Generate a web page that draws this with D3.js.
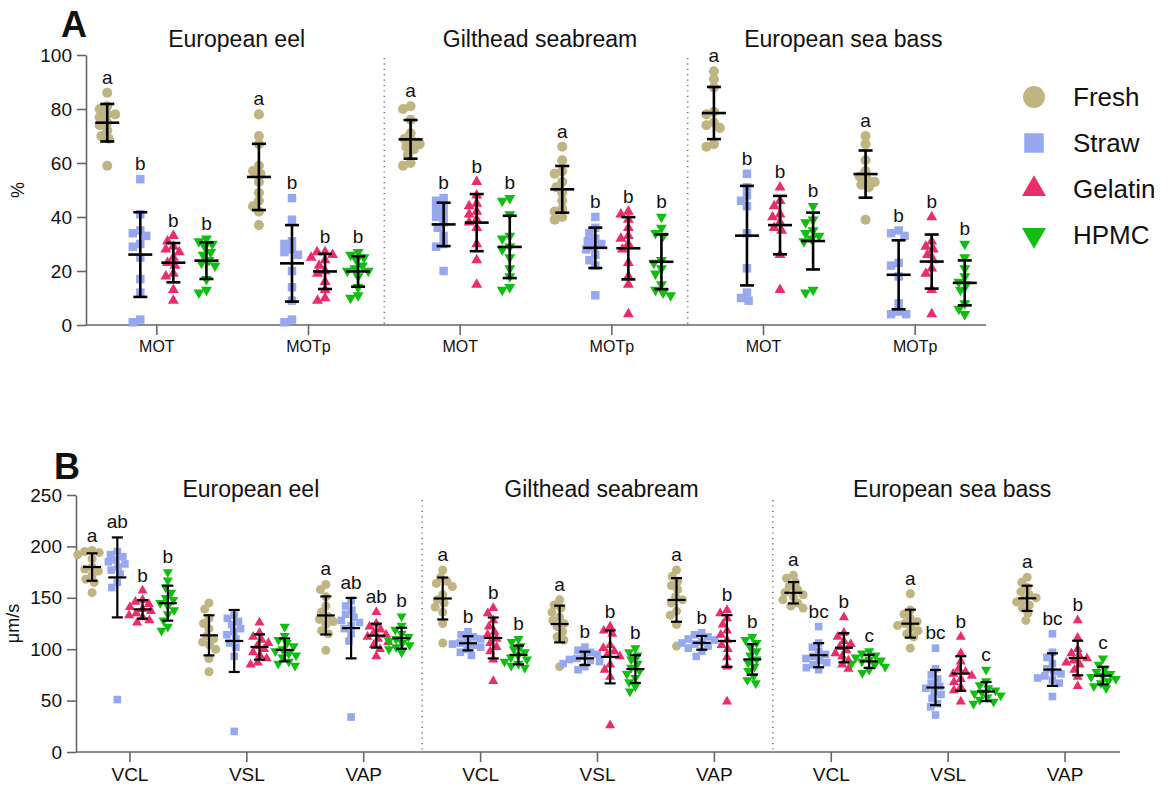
<!DOCTYPE html>
<html>
<head>
<meta charset="utf-8">
<script src="https://cdn.jsdelivr.net/npm/d3@7"></script>
<style>
  body { margin: 0; background: #fff; }
  text { font-family: "Liberation Sans", Arial, sans-serif; fill: #111; }
</style>
</head>
<body>
<svg id="chart" width="1176" height="790"></svg>
<script>
// treatment groups, in plotting order
const groups = ["Fresh", "Straw", "Gelatin", "HPMC"];
const colors = ["#C0B482", "#96A8F0", "#EB2D69", "#10BE10"];
const species = ["European eel", "Gilthead seabream", "European sea bass"];
const paramsA = ["MOT", "MOTp"];
const paramsB = ["VCL", "VSL", "VAP"];
const ticksA = [0, 20, 40, 60, 80, 100];
const ticksB = [0, 50, 100, 150, 200, 250];

// panel A, % motile / progressive motile (Fresh, Straw, Gelatin, HPMC)
const eelMOT = [
  [86, 81, 80, 78, 78, 77, 75, 74, 72, 70, 69, 59],
  [54, 41, 35, 34, 33, 30, 29, 25, 17, 12, 2, 1],
  [33, 31, 29, 28, 27, 25, 23, 22, 19, 18, 13, 9],
  [32, 31, 30, 29, 27, 26, 24, 23, 22, 17, 13, 12]];
const eelMOTp = [
  [78, 70, 67, 59, 57, 56, 53, 49, 46, 44, 42, 37],
  [47, 39, 31, 30, 28, 27, 26, 20, 14, 9, 2, 1],
  [27, 27, 26, 25, 24, 22, 20, 19, 16, 13, 10, 9],
  [27, 26, 25, 24, 22, 21, 20, 20, 18, 14, 11, 10]];
const giltMOT = [
  [81, 80, 76, 71, 69, 68, 67, 66, 65, 63, 60, 59],
  [47, 46, 44, 43, 41, 40, 38, 36, 33, 30, 29, 20],
  [53, 48, 45, 44, 42, 41, 39, 38, 36, 30, 24, 15],
  [47, 46, 41, 33, 32, 29, 28, 25, 21, 18, 14, 13]];
const giltMOTp = [
  [66, 61, 57, 56, 53, 51, 49, 46, 43, 42, 40, 39],
  [40, 36, 34, 32, 31, 30, 29, 28, 26, 24, 22, 11],
  [42, 41, 39, 36, 33, 32, 30, 28, 23, 18, 15, 4],
  [40, 36, 34, 33, 24, 23, 21, 19, 15, 13, 12, 11]];
const bassMOT = [
  [94, 91, 88, 79, 78, 75, 74, 73, 67, 66],
  [56, 51, 48, 46, 44, 34, 21, 12, 10, 9],
  [51, 46, 44, 41, 40, 38, 36, 35, 26, 13],
  [44, 39, 38, 35, 34, 33, 32, 31, 13, 12]];
const bassMOTp = [
  [70, 67, 61, 57, 55, 54, 53, 52, 51, 39],
  [35, 34, 33, 23, 22, 18, 8, 5, 4, 4],
  [40, 31, 29, 28, 26, 24, 21, 19, 13, 4],
  [30, 25, 21, 18, 16, 15, 13, 8, 6, 4]];

// panel B, velocities in um/s
const eelVCL = [
  [196, 195, 194, 192, 188, 180, 178, 176, 172, 168, 165, 155],
  [195, 192, 190, 187, 185, 183, 180, 177, 173, 165, 160, 51],
  [157, 148, 146, 144, 141, 139, 137, 135, 133, 131, 128, 126],
  [175, 167, 160, 155, 150, 148, 145, 142, 138, 134, 128, 122, 118]];
const eelVSL = [
  [145, 139, 130, 125, 120, 113, 110, 107, 104, 100, 91, 78],
  [133, 130, 127, 124, 120, 117, 114, 110, 106, 102, 93, 20],
  [126, 116, 112, 109, 106, 103, 100, 97, 94, 91, 87, 85],
  [122, 113, 109, 106, 103, 100, 98, 96, 94, 92, 88, 86, 84]];
const eelVAP = [
  [163, 158, 151, 142, 136, 132, 129, 127, 124, 118, 115, 99],
  [147, 142, 138, 134, 131, 128, 126, 123, 120, 115, 108, 34],
  [136, 125, 122, 119, 116, 114, 112, 110, 107, 104, 100, 93],
  [132, 123, 119, 115, 112, 110, 108, 106, 104, 102, 100, 97]];
const giltVCL = [
  [177, 170, 166, 164, 161, 153, 148, 145, 141, 136, 125, 106],
  [117, 114, 112, 110, 108, 106, 105, 104, 102, 100, 97, 94],
  [140, 135, 128, 122, 117, 114, 110, 106, 102, 98, 90, 69],
  [110, 107, 103, 100, 97, 94, 92, 90, 88, 86, 84, 82]];
const giltVSL = [
  [148, 143, 140, 136, 131, 128, 125, 122, 117, 112, 109, 83],
  [102, 99, 97, 95, 93, 91, 90, 89, 88, 86, 83, 80],
  [122, 118, 115, 104, 101, 98, 95, 93, 85, 80, 73, 26],
  [101, 97, 94, 90, 86, 82, 79, 76, 72, 68, 64, 59]];
const giltVAP = [
  [177, 171, 166, 162, 158, 151, 148, 145, 137, 133, 124, 103],
  [116, 114, 112, 110, 109, 107, 106, 105, 103, 101, 98, 93],
  [138, 135, 130, 124, 118, 114, 109, 104, 100, 92, 83, 49],
  [112, 109, 106, 102, 98, 94, 90, 87, 83, 79, 74, 70, 67]];
const bassVCL = [
  [172, 169, 165, 161, 158, 155, 153, 151, 148, 145, 142, 140],
  [122, 106, 102, 98, 95, 93, 91, 89, 87, 85, 82, 80],
  [131, 116, 112, 108, 105, 102, 99, 96, 93, 89, 85, 81],
  [98, 96, 94, 92, 90, 89, 88, 86, 85, 83, 80, 77]];
const bassVSL = [
  [154, 138, 134, 130, 127, 125, 123, 121, 118, 115, 112, 101],
  [101, 81, 75, 71, 67, 64, 62, 59, 56, 52, 47, 44, 36],
  [112, 96, 88, 81, 78, 76, 74, 71, 68, 63, 60, 49],
  [80, 69, 65, 62, 60, 58, 57, 55, 53, 51, 49, 47]];
const bassVAP = [
  [170, 165, 160, 156, 153, 150, 148, 146, 143, 140, 135, 128],
  [115, 97, 92, 86, 81, 78, 76, 74, 72, 70, 67, 54],
  [128, 111, 100, 96, 93, 91, 89, 87, 85, 80, 73, 64],
  [91, 85, 81, 78, 76, 74, 73, 71, 69, 67, 64, 62]];

// significance letters per category
const lettersA = [
  ["a", "b", "b", "b"], ["a", "b", "b", "b"],
  ["a", "b", "b", "b"], ["a", "b", "b", "b"],
  ["a", "b", "b", "b"], ["a", "b", "b", "b"]];
const lettersB = [
  ["a", "ab", "b", "b"], ["", "", "", ""], ["a", "ab", "ab", "b"],
  ["a", "b", "b", "b"], ["a", "b", "b", "b"], ["a", "b", "b", "b"],
  ["a", "bc", "b", "c"], ["a", "bc", "b", "c"], ["a", "bc", "b", "c"]];

const valuesA = [eelMOT, eelMOTp, giltMOT, giltMOTp, bassMOT, bassMOTp];
const valuesB = [eelVCL, eelVSL, eelVAP, giltVCL, giltVSL, giltVAP, bassVCL, bassVSL, bassVAP];

const svg = d3.select("#chart");
svg.append("rect").attr("width", 1176).attr("height", 790).attr("fill", "#fff");

const shapes = [d3.symbolCircle, d3.symbolSquare, d3.symbolTriangle, d3.symbolTriangle];
const turns = [0, 0, 0, 180];

// simple beeswarm: put each point as near the column centre as it fits
function swarm(ys, d) {
  const placed = [];
  return ys.map(function (y) {
    const cands = [0];
    placed.forEach(function (p) {
      const dy = Math.abs(p.y - y);
      if (dy < d) {
        const dx = Math.sqrt(d * d - dy * dy);
        cands.push(p.x - dx, p.x + dx);
      }
    });
    cands.sort(function (a, b) { return Math.abs(a) - Math.abs(b); });
    const x = cands.find(function (c) {
      return placed.every(function (p) {
        return (p.x - c) * (p.x - c) + (p.y - y) * (p.y - y) >= d * d - 0.01;
      });
    });
    placed.push({ x: x, y: y });
    return x;
  });
}

function drawPanel(p) {
  const cats = [];
  species.forEach(function (s, si) {
    p.params.forEach(function (pr, pi) {
      const i = si * p.params.length + pi;
      cats.push({ key: s + "|" + pr, label: pr, sp: si, values: p.values[i], letters: p.letters[i] });
    });
  });

  const x = d3.scaleBand().domain(cats.map(function (c) { return c.key; })).range(p.xRange);
  const bw = x.bandwidth();
  const y = d3.scaleLinear().domain([0, d3.max(p.ticks)]).range(p.yRange);
  const g = svg.append("g");

  // dotted separators between species
  [1, 2].forEach(function (si) {
    const sx = x(species[si] + "|" + p.params[0]);
    g.append("line")
      .attr("x1", sx).attr("x2", sx)
      .attr("y1", p.sepTop).attr("y2", p.yRange[0])
      .attr("stroke", "#777").attr("stroke-width", 1.6)
      .attr("stroke-dasharray", "1.2,4.2");
  });

  // y axis
  const ya = g.append("g")
    .attr("transform", "translate(" + p.axisX + ",0)")
    .call(d3.axisLeft(y).tickValues(p.ticks).tickSize(9).tickPadding(5).tickSizeOuter(0));

  // x axis
  const xa = g.append("g")
    .attr("transform", "translate(0," + p.yRange[0] + ")")
    .call(d3.axisBottom(x).tickSize(10).tickPadding(6)
      .tickFormat(function (k) { return k.split("|")[1]; }));
  xa.select(".domain").remove();
  g.append("line")
    .attr("x1", p.axisX).attr("x2", p.xEnd)
    .attr("y1", p.yRange[0]).attr("y2", p.yRange[0])
    .attr("stroke", "#666").attr("stroke-width", 1.6);

  [ya, xa].forEach(function (a) {
    a.selectAll("path, line").attr("stroke", "#666").attr("stroke-width", 1.6);
    a.selectAll("text").style("font-size", "19px").attr("fill", "#111");
  });
  xa.selectAll("text").style("font-size", p.xFont + "px");

  // y axis title
  g.append("text")
    .attr("transform", "translate(" + p.yTitleX + "," + (p.yRange[0] + p.yRange[1]) / 2 + ") rotate(-90)")
    .attr("text-anchor", "middle")
    .style("font-size", "18px")
    .text(p.yTitle);

  // species titles
  species.forEach(function (s, si) {
    const x0 = x(s + "|" + p.params[0]);
    const x1 = x(s + "|" + p.params[p.params.length - 1]) + bw;
    g.append("text")
      .attr("x", (x0 + x1) / 2 + 4).attr("y", p.titleY)
      .attr("text-anchor", "middle")
      .style("font-size", "23px")
      .text(s);
  });

  // panel letter
  g.append("text")
    .attr("x", p.tagX).attr("y", p.tagY)
    .style("font-size", "36px").style("font-weight", "bold")
    .text(p.tag);

  const marks = g.append("g");
  const bars = g.append("g");

  cats.forEach(function (c) {
    c.values.forEach(function (vals, gi) {
      const cx = x(c.key) + bw / 2 + (gi - 1.5) * p.step * bw;
      const ys = vals.map(function (v) { return y(v); });
      const offs = swarm(ys, p.dia);
      const sym = d3.symbol().type(shapes[gi]).size(p.sizes[gi]);

      marks.selectAll(null)
        .data(vals)
        .enter().append("path")
        .attr("d", sym)
        .attr("fill", colors[gi])
        .attr("transform", function (d, i) {
          return "translate(" + (cx + offs[i]) + "," + ys[i] + ") rotate(" + turns[gi] + ")";
        });

      // mean and SD
      const m = d3.mean(vals);
      const sd = d3.deviation(vals);
      const lines = [
        [cx - p.meanW, y(m), cx + p.meanW, y(m)],
        [cx, y(m + sd), cx, y(Math.max(0, m - sd))],
        [cx - p.capW, y(m + sd), cx + p.capW, y(m + sd)],
        [cx - p.capW, y(Math.max(0, m - sd)), cx + p.capW, y(Math.max(0, m - sd))]];
      lines.forEach(function (l) {
        bars.append("line")
          .attr("x1", l[0]).attr("y1", l[1]).attr("x2", l[2]).attr("y2", l[3])
          .attr("stroke", "#000").attr("stroke-width", p.barW);
      });

      // significance letter
      const top = Math.max(d3.max(vals), m + sd);
      g.append("text")
        .attr("x", cx).attr("y", y(top) - 9)
        .attr("text-anchor", "middle")
        .style("font-size", "19px")
        .text(c.letters[gi]);
    });
  });
}

drawPanel({
  params: paramsA, values: valuesA, letters: lettersA, ticks: ticksA,
  xRange: [81, 991], yRange: [325, 55], axisX: 86, xEnd: 986, sepTop: 58,
  step: 0.218, dia: 8, sizes: [80, 72, 52, 52], meanW: 12, capW: 7, barW: 2.6,
  xFont: 16, yTitle: "%", yTitleX: 24, titleY: 47, tag: "A", tagX: 61, tagY: 37
});

drawPanel({
  params: paramsB, values: valuesB, letters: lettersB, ticks: ticksB,
  xRange: [71.5, 1123.5], yRange: [752, 495], axisX: 76, xEnd: 1120, sepTop: 500,
  step: 0.216, dia: 7.5, sizes: [64, 58, 44, 44], meanW: 9, capW: 5.5, barW: 2.2,
  xFont: 19, yTitle: "\u03bcm/s", yTitleX: 19, titleY: 497, tag: "B", tagX: 54, tagY: 479
});

// legend
const legend = svg.append("g").attr("transform", "translate(1034,97)");
groups.forEach(function (name, gi) {
  const row = legend.append("g").attr("transform", "translate(0," + gi * 46 + ")");
  row.append("path")
    .attr("d", d3.symbol().type(shapes[gi]).size(gi < 2 ? 380 : 250))
    .attr("transform", "rotate(" + turns[gi] + ")")
    .attr("fill", colors[gi]);
  row.append("text")
    .attr("x", 39).attr("y", 0)
    .attr("dy", "0.35em")
    .style("font-size", "26px")
    .text(name);
});
</script>
</body>
</html>
